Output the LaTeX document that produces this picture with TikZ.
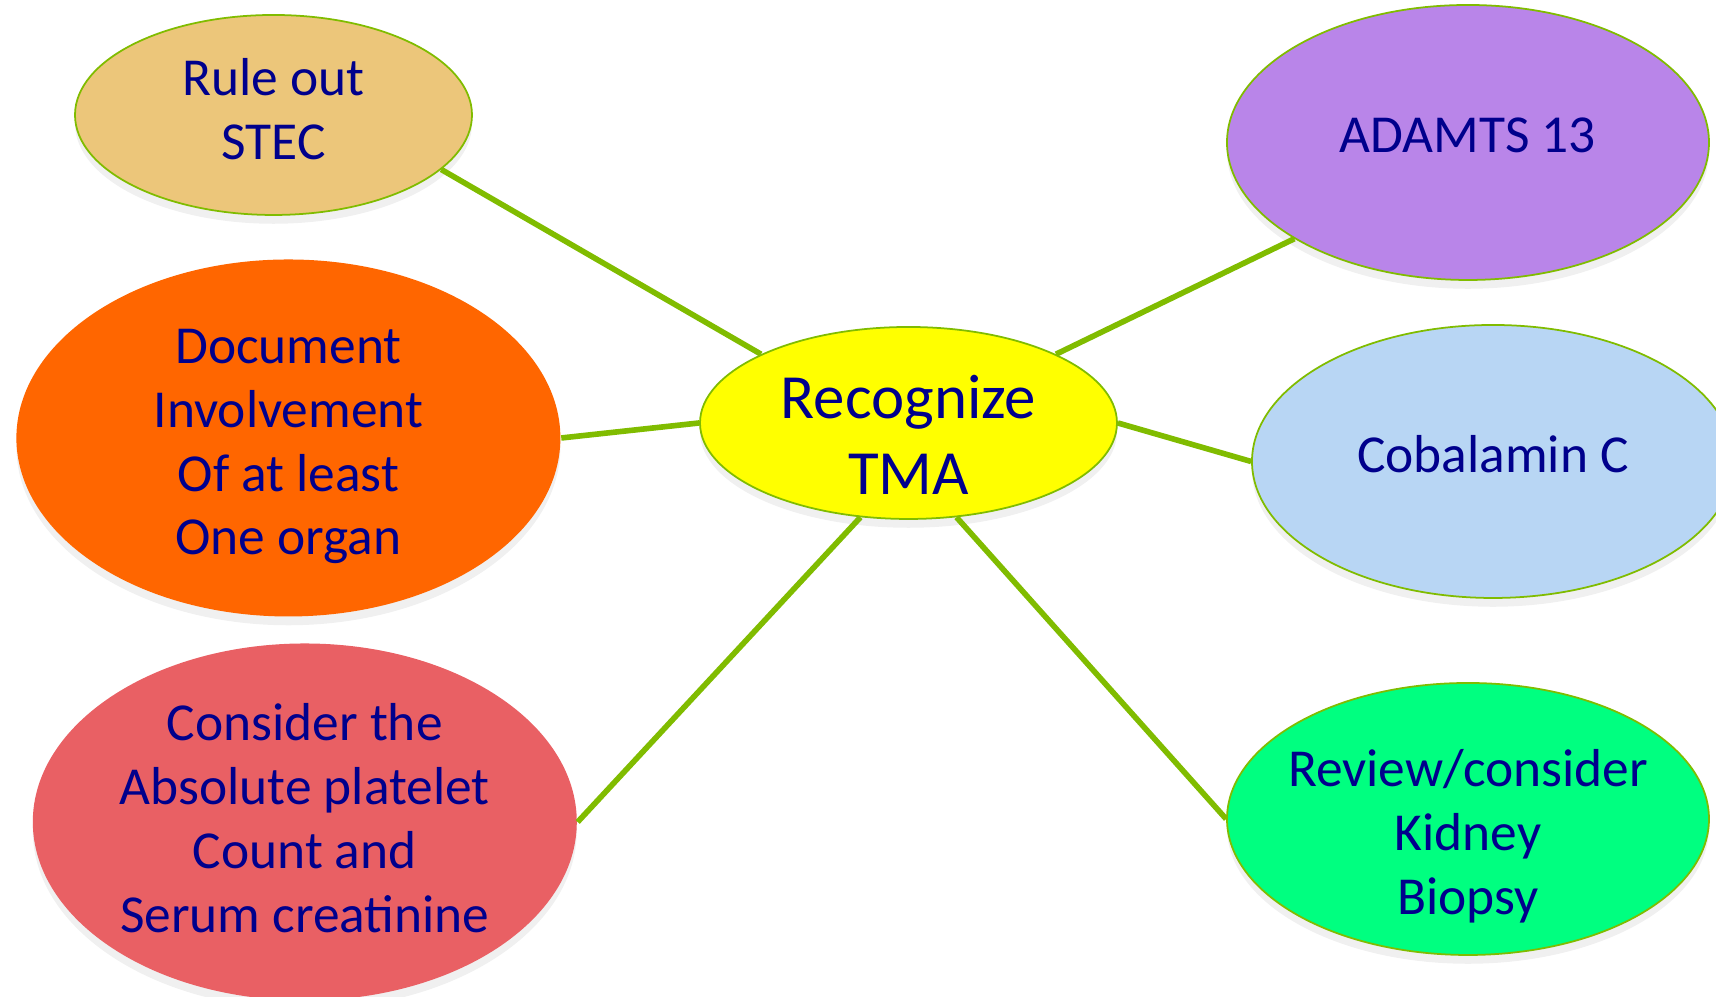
\documentclass[tikz,border=0pt]{standalone}
\usepackage{fontspec}
\setmainfont{Carlito}
\usetikzlibrary{shapes.geometric,shadows}

\definecolor{linkgreen}{RGB}{128,188,0}
\definecolor{inkblue}{RGB}{0,0,140}
\definecolor{stecfill}{RGB}{236,198,122}
\definecolor{docfill}{RGB}{255,102,0}
\definecolor{consfill}{RGB}{233,96,100}
\definecolor{tmafill}{RGB}{255,255,0}
\definecolor{adamfill}{RGB}{185,133,233}
\definecolor{cobfill}{RGB}{184,214,244}
\definecolor{revfill}{RGB}{0,255,128}

\begin{document}
\begin{tikzpicture}[
        bubble/.style     = {ellipse, draw = linkgreen, line width = 0.5pt, inner sep = 0pt,
                             drop shadow = {opacity = 0.12, shadow xshift = 0pt, shadow yshift = -2.5pt}},
        bubbletext/.style = {text = inkblue, align = center, font = \fontsize{15.2}{18.2}\selectfont},
        bigtext/.style    = {text = inkblue, align = center, font = \fontsize{17.9}{21.6}\selectfont},
        link/.style       = {draw = linkgreen, line width = 1.6pt}
    ]
    \useasboundingbox (0,0) rectangle (17.16,9.97);

    % centre
    \node [bubble, fill = tmafill, minimum width = 4.17cm, minimum height = 1.92cm,
           label = {[bigtext, yshift = -0.12cm]center:Recognize\\TMA}] (tma) at (9.085,5.74) {};

    % left side
    \node [bubble, fill = stecfill, minimum width = 3.97cm, minimum height = 2.00cm,
           label = {[bubbletext, yshift = 0.06cm]center:Rule out\\STEC}] (stec) at (2.735,8.82) {};
    \node [bubble, draw = none, fill = docfill, minimum width = 5.44cm, minimum height = 3.57cm,
           label = {[bubbletext, yshift = -0.085cm]center:Document\\Involvement\\Of at least\\One organ}] (doc) at (2.884,5.59) {};
    \node [bubble, draw = none, fill = consfill, minimum width = 5.44cm, minimum height = 3.57cm,
           label = {[bubbletext, yshift = 0.04cm]center:Consider the\\Absolute platelet\\Count and\\Serum creatinine}] (cons) at (3.048,1.75) {};

    % right side
    \node [bubble, fill = adamfill, minimum width = 4.82cm, minimum height = 2.75cm,
           label = {[bubbletext, yshift = 0.075cm]center:ADAMTS 13}] (adam) at (14.68,8.545) {};
    \node [bubble, fill = cobfill, minimum width = 4.82cm, minimum height = 2.73cm,
           label = {[bubbletext, yshift = 0.075cm]center:Cobalamin C}] (cob) at (14.93,5.355) {};
    \node [bubble, fill = revfill, minimum width = 4.82cm, minimum height = 2.72cm,
           label = {[bubbletext, yshift = -0.175cm]center:Review/consider\\Kidney\\Biopsy}] (rev) at (14.68,1.78) {};

    % spokes
    \draw [link] (stec.-18)  -- (tma.155);
    \draw [link] (doc.east)  -- (tma.west);
    \draw [link] (cons.east) -- (tma.243);
    \draw [link] (tma.25)    -- (adam.209);
    \draw [link] (tma.east)  -- (cob.west);
    \draw [link] (tma.297)   -- (rev.west);
\end{tikzpicture}
\end{document}
